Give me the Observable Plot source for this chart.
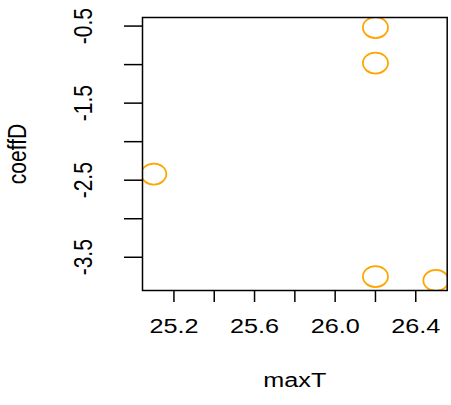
<!DOCTYPE html>
<html>
<head>
<meta charset="utf-8">
<script src="https://cdn.jsdelivr.net/npm/d3@7"></script>
<script src="https://cdn.jsdelivr.net/npm/@observablehq/plot@0.6"></script>
<style>
  html, body { margin: 0; padding: 0; background: #fff; }
</style>
</head>
<body>
<div id="chart"></div>
<script>
// Data
const maxT   = [25.10, 26.20, 26.20, 26.20, 26.50];
const coeffD = [-2.42, -0.52, -0.98, -3.75, -3.80];
const xTicks = [25.2, 25.4, 25.6, 25.8, 26.0, 26.2, 26.4];
const xLabels = [25.2, 25.6, 26.0, 26.4];
const yTicks = [-0.5, -1.0, -1.5, -2.0, -2.5, -3.0, -3.5];
const yLabels = [-0.5, -1.5, -2.5, -3.5];

const points = maxT.map((x, i) => ({maxT: x, coeffD: coeffD[i]}));

// R-style 4% extension of data range
const ext = (arr) => { const [a, b] = d3.extent(arr); const d = (b - a) * 0.04; return [a - d, b + d]; };

const ellipse = {
  draw(ctx, size) {
    const r = Math.sqrt(size / Math.PI), a = r * 1.14, b = r * 0.955, k = 0.5523;
    ctx.moveTo(a, 0);
    ctx.bezierCurveTo(a, b * k, a * k, b, 0, b);
    ctx.bezierCurveTo(-a * k, b, -a, b * k, -a, 0);
    ctx.bezierCurveTo(-a, -b * k, -a * k, -b, 0, -b);
    ctx.bezierCurveTo(a * k, -b, a, -b * k, a, 0);
    ctx.closePath();
  }
};

const FS = 21;
const txt = {fontSize: FS, fill: "#000", textAnchor: "middle", lineAnchor: "middle"};
const chart = Plot.plot({
  width: 451,
  height: 405,
  marginLeft: 142,
  marginRight: 4.3,
  marginTop: 17,
  marginBottom: 115,
  style: {fontFamily: "'Liberation Sans', Arial, sans-serif", background: "#fff", color: "#000"},
  x: {domain: ext(maxT)},
  y: {domain: ext(coeffD)},
  marks: [
    Plot.axisX(xTicks, {tickSize: 12, tickFormat: () => "", label: null, stroke: "#000", strokeWidth: 1.5}),
    Plot.axisY(yTicks, {tickSize: 18, tickFormat: () => "", label: null, stroke: "#000", strokeWidth: 1.5}),
    Plot.text(xLabels, {x: d => d, text: d => d.toFixed(1), frameAnchor: "bottom", dy: 42, ...txt}),
    Plot.text(yLabels, {y: d => d, text: d => d.toFixed(1), frameAnchor: "left", dx: -51, rotate: -90, ...txt}),
    Plot.text(["maxT"], {text: d => d, frameAnchor: "bottom", dy: 96, ...txt}),
    Plot.text(["coeffD"], {text: d => d, frameAnchor: "left", dx: -117, rotate: -90, ...txt}),
    Plot.dot(points, {x: "maxT", y: "coeffD", r: 11, symbol: ellipse, stroke: "#FFA500", strokeWidth: 1.8, fill: "none", clip: true}),
    Plot.frame({stroke: "#000", strokeWidth: 1.5})
  ]
});

// Horizontal stretch of glyphs, as in the reference image
const S = 1.2;
chart.querySelectorAll("text").forEach(t => {
  if (!t.textContent) return;
  const tr = t.getAttribute("transform") || "";
  let tx = +t.getAttribute("x") || 0, ty = +t.getAttribute("y") || 0;
  t.removeAttribute("x"); t.removeAttribute("y");
  let rest = tr;
  const m = tr.match(/^\s*translate\(\s*([-\d.e]+)[,\s]+([-\d.e]+)\s*\)(.*)$/);
  if (m) { tx += +m[1]; ty += +m[2]; rest = m[3]; }
  t.setAttribute("transform", `translate(${tx},${ty}) scale(${S},1) ${rest}`);
});

document.getElementById("chart").appendChild(chart);
</script>
</body>
</html>
